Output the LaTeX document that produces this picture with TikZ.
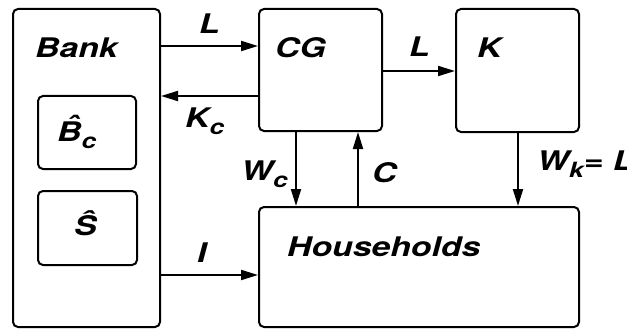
\documentclass[tikz,border=0pt]{standalone}
\usepackage{fontspec}
\usetikzlibrary{arrows.meta}
\newfontfamily\hf[FakeStretch=1.25]{TeX Gyre Heros}
\newcommand\subsc[1]{\raisebox{-7pt}{\fontsize{21}{21}\selectfont #1}}
\tikzset{
  box/.style={draw, line width=2pt, rounded corners=5pt, inner sep=0pt},
  lbl/.style={font=\hf\fontsize{27}{27}\selectfont\bfseries\itshape, inner sep=0pt},
  arr/.style={line width=2pt, -{Triangle[length=17pt,width=10pt]}},
}
\begin{document}
\begin{tikzpicture}[x=1pt,y=-1pt]
\useasboundingbox[fill=white] (0,0) rectangle (627,329);
% boxes
\node[box, minimum width=147pt, minimum height=318pt] (bank) at (86.5,168) {};
\node[box, minimum width=123pt, minimum height=122pt] (cg) at (320.5,70) {};
\node[box, minimum width=123pt, minimum height=123pt] (k) at (517.5,70.5) {};
\node[box, minimum width=320pt, minimum height=120pt] (hh) at (419,267) {};
\node[box, minimum width=98pt, minimum height=73pt] (bc) at (87,132.5) {};
\node[box, minimum width=99pt, minimum height=74pt] (s) at (87.5,228) {};
% box texts
\node[lbl, anchor=base west] (tbank) at (35,58) {Bank};
\node[lbl, anchor=base west] (tcg) at (275,58) {CG};
\node[lbl, anchor=base west] (tk) at (477,58) {K};
\node[lbl, anchor=base west] (thh) at (287,256) {Households};
\node[lbl, anchor=base west] (tbc) at (57,142) {\rlap{\hspace{9pt}\raisebox{6pt}{\char"02C6}}B\subsc{c}};
\node[lbl, anchor=base west] (ts) at (74,235) {\^{S}};
% helper coordinates
\coordinate (ya) at (0,46);
\coordinate (yb) at (0,96);
\coordinate (yc) at (0,71);
\coordinate (yd) at (0,275);
\coordinate (xa) at (296,0);
\coordinate (xb) at (358,0);
\coordinate (xc) at (518,0);
% connectors
\draw[arr] (bank.east |- ya) -- (cg.west |- ya);
\draw[arr] (cg.west |- yb) -- (bank.east |- yb);
\draw[arr] (cg.east |- yc) -- (k.west |- yc);
\draw[arr] (cg.south -| xa) -- (hh.north -| xa);
\draw[arr] (hh.north -| xb) -- (cg.south -| xb);
\draw[arr] (k.south -| xc) -- (hh.north -| xc);
\draw[arr] (bank.east |- yd) -- (hh.west |- yd);
% connector labels
\node[lbl, anchor=base west] (l1) at (199,34) {L};
\node[lbl, anchor=base west] (l2) at (185,128) {K\subsc{c}};
\node[lbl, anchor=base west] (l3) at (409,57) {L};
\node[lbl, anchor=base west] (l4) at (241,180) {W\subsc{c}};
\node[lbl, anchor=base west] (l5) at (372,182) {C};
\node[lbl, anchor=base west] (l6) at (537,170) {W\subsc{k}= L};
\node[lbl, anchor=base west] (l7) at (197,262) {I};
\end{tikzpicture}
\end{document}
